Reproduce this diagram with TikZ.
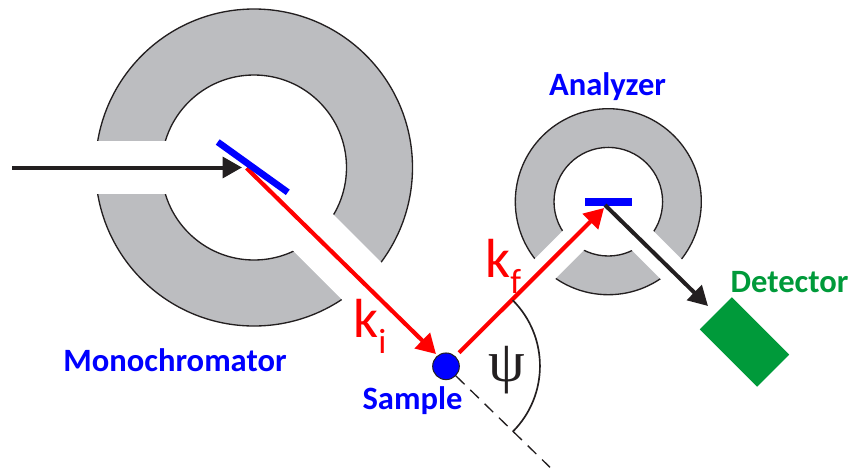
\documentclass[tikz,border=0pt]{standalone}
\usepackage{fontspec}
\setmainfont{Carlito}
\newfontfamily\psifont{Liberation Serif}
\usetikzlibrary{arrows.meta}
\definecolor{ringgray}{RGB}{188,189,192}
\definecolor{inkblack}{RGB}{35,31,32}
\definecolor{detgreen}{RGB}{0,154,58}
\tikzset{
  ring/.style={draw=inkblack,line width=0.04cm,fill=ringgray,even odd rule},
  gap/.style={draw=white,line width=#1},
  crystal/.style={draw=blue,line width=#1},
  redbeam/.style={draw=red,line width=0.125cm,-{Triangle[length=0.58cm,width=0.64cm]}},
  blackbeam/.style={draw=inkblack,line width=0.12cm,-{Triangle[length=0.58cm,width=0.62cm]}},
  bluelabel/.style={text=blue,font=\fontsize{27.8}{30}\selectfont\bfseries,inner sep=0pt},
  beamlabel/.style={text=red,font=\fontsize{47}{50}\selectfont,inner sep=0pt,anchor=base west},
}
\newcommand{\beamsub}[1]{\raisebox{-0.3em}{\fontsize{30}{32}\selectfont #1}}
\begin{document}
\begin{tikzpicture}[x=0.03cm,y=-0.03cm]
\useasboundingbox (0,0) rectangle (850,470);

\coordinate (mono) at (254,167.5);
\coordinate (ana) at (608.3,201.7);
\coordinate (src) at (12,167.5);
\coordinate (monohit) at (242,167.5);
\coordinate (monostart) at (246.5,168);
\coordinate (monoa) at (217.7,142);
\coordinate (monob) at (287.8,192.3);
\coordinate (anaa) at (585,202);
\coordinate (anab) at (631.7,202);
\coordinate (anahit) at (604,208);
\coordinate (anaout) at (605,205);
\coordinate (dettip) at (708,306);
\coordinate (samtip) at (436,354);
\coordinate (samout) at (459,352.7);
\coordinate (dashend) at (550,467.3);
\coordinate (psitop) at (512.7,300.2);

\draw[ring] (mono) circle (158.5) (mono) circle (92.5);
\draw[ring] (ana) circle (93) (ana) circle (54.3);

\draw[gap=1.59cm] (mono) -- (85,167.5);
\draw[gap=1.62cm] (260,179.4) -- (400,319.4);
\draw[gap=0.86cm] (600,213.8) -- (520,293.8);
\draw[gap=0.86cm] (610,208) -- (700,298);

\node[circle,draw=inkblack,line width=0.03cm,fill=blue,minimum size=0.8cm,inner sep=0pt] (sample) at (446,366.3) {};
\node[fill=detgreen,minimum width=2.43cm,minimum height=1.36cm,inner sep=0pt,rotate=-45] (detector) at (744.5,342) {};

\draw[blackbeam] (src) -- (monohit);
\draw[redbeam] (monostart) -- (samtip);
\draw[crystal=0.2cm] (monoa) -- (monob);
\draw[redbeam] (samout) -- (anahit);
\draw[crystal=0.23cm] (anaa) -- (anab);
\draw[blackbeam] (anaout) -- (dettip);

\draw[inkblack,line width=0.04cm,dash pattern=on 0.36cm off 0.24cm] (sample) -- (dashend);
\draw[inkblack,line width=0.05cm] (psitop) arc[start angle=-45,end angle=45,radius=93];

\node[bluelabel] (monolabel) at (175,360) {Monochromator};
\node[bluelabel] (samplelabel) at (412.5,401) {Sample};
\node[bluelabel] (analabel) at (607.5,87) {Analyzer};
\node[bluelabel,text=detgreen] (detlabel) at (789.5,282) {Detector};
\node[beamlabel] (kilabel) at (353,337) {k\beamsub{i}};
\node[beamlabel] (kflabel) at (485,277) {k\beamsub{f}};
\node[inkblack,font=\fontsize{50}{54}\selectfont\psifont,inner sep=0pt] (psilabel) at (507,370) {ψ};
\end{tikzpicture}
\end{document}
